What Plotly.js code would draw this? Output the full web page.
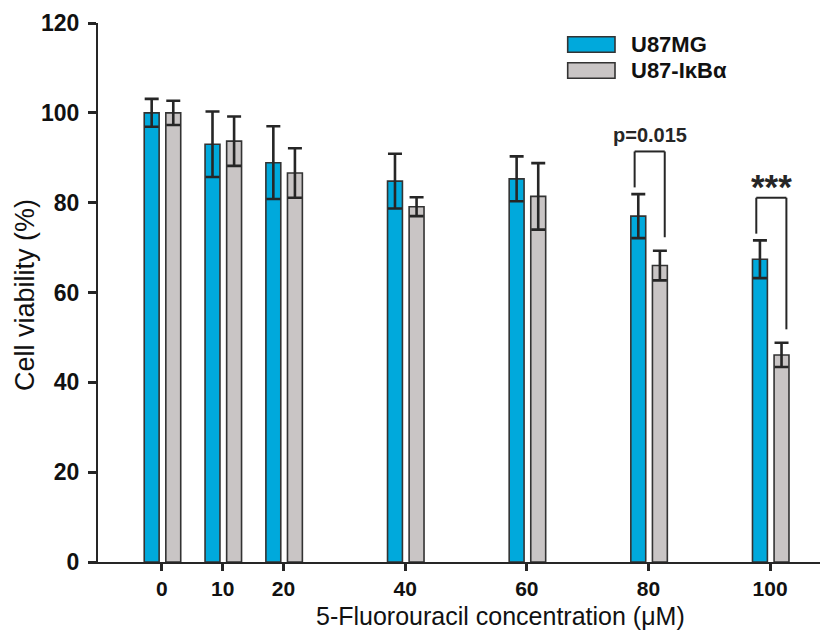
<!DOCTYPE html>
<html>
<head>
<meta charset="utf-8">
<script src="https://cdn.plot.ly/plotly-3.0.1.min.js"></script>
<style>
html,body{margin:0;padding:0;background:#fff;}
#chart{width:822px;height:630px;}
</style>
</head>
<body>
<div id="chart"></div>
<script>
// ---- data ----
var concentrations = [0, 10, 20, 40, 60, 80, 100];
var tickLabels = ['0', '10', '20', '40', '60', '80', '100'];
var seriesNames = ['U87MG', 'U87-I\u03BAB\u03B1'];
var u87mgMean = [100.0, 93.0, 88.9, 84.8, 85.3, 77.0, 67.4];
var u87mgSD   = [3.1, 7.3, 8.1, 6.1, 5.0, 4.9, 4.2];
var ikbaMean  = [100.0, 93.7, 86.6, 79.1, 81.4, 66.0, 46.1];
var ikbaSD    = [2.7, 5.5, 5.5, 2.1, 7.4, 3.3, 2.7];
var sigIndex  = [5, 6];
var sigLabels = ['p=0.015', '***'];

// ---- style ----
var blue = '#00a9dc';
var gray = '#c9c5c5';
var ink = '#262626';
var barW = 2.45;
var blueOff = -2.9;
var grayOff = 0.65;
var FONT = 'Liberation Sans, Arial, sans-serif';

function errCfg(arr) {
  return {type: 'data', array: arr, visible: true, color: ink, thickness: 2.6, width: 7};
}

var traces = [
  {
    type: 'bar', name: seriesNames[0], x: concentrations, y: u87mgMean,
    width: barW, offset: blueOff,
    marker: {color: blue, line: {color: '#333333', width: 1.6}},
    error_y: errCfg(u87mgSD), showlegend: false
  },
  {
    type: 'bar', name: seriesNames[1], x: concentrations, y: ikbaMean,
    width: barW, offset: grayOff,
    marker: {color: gray, line: {color: '#333333', width: 1.6}},
    error_y: errCfg(ikbaSD), showlegend: false
  }
];

var shapes = [];
var annotations = [];

// significance brackets computed from the data
sigIndex.forEach(function (i, k) {
  var c = concentrations[i];
  var bTop = u87mgMean[i] + u87mgSD[i];
  var gTop = ikbaMean[i] + ikbaSD[i];
  var xl = c + blueOff + barW / 2 - 0.6;
  var xr = c + grayOff + barW / 2 + 0.8;
  var top = bTop + 9.5;
  shapes.push({type: 'line', xref: 'x', yref: 'y', x0: xl, x1: xl, y0: bTop + 1.5, y1: top, line: {color: ink, width: 2}});
  shapes.push({type: 'line', xref: 'x', yref: 'y', x0: xl, x1: xr, y0: top, y1: top, line: {color: ink, width: 2}});
  shapes.push({type: 'line', xref: 'x', yref: 'y', x0: xr, x1: xr, y0: gTop + 3, y1: top, line: {color: ink, width: 2}});
  annotations.push({
    xref: 'x', yref: 'y', x: (xl + xr) / 2, y: top, text: '<b>' + sigLabels[k] + '</b>',
    showarrow: false, yanchor: 'bottom', yshift: k === 0 ? 3 : -10,
    font: {family: FONT, size: k === 0 ? 20 : 35, color: ink}
  });
});

// legend drawn as boxes + text (paper coords)
var legendItems = [{color: blue, label: seriesNames[0]}, {color: gray, label: seriesNames[1]}];
legendItems.forEach(function (it, k) {
  var yTop = 1 - (36.7 - 23 + k * 26) / 539;
  var yBot = yTop - 15.6 / 539;
  shapes.push({type: 'rect', xref: 'paper', yref: 'paper',
    x0: (567.7 - 98) / 722, x1: (615 - 98) / 722, y0: yBot, y1: yTop,
    fillcolor: it.color, line: {color: '#333333', width: 1.6}});
  annotations.push({xref: 'paper', yref: 'paper', x: (629 - 98) / 722, y: (yTop + yBot) / 2,
    xanchor: 'left', yanchor: 'middle', showarrow: false,
    text: '<b>' + it.label + '</b>', font: {family: FONT, size: 22, color: '#111'}});
});

// axis titles
annotations.push({xref: 'paper', yref: 'paper', x: (500.5 - 98) / 722, y: 0, yanchor: 'middle',
  yshift: -54, showarrow: false, text: '5-Fluorouracil concentration (\u03BCM)',
  font: {family: FONT, size: 25, color: '#111'}});
annotations.push({xref: 'paper', yref: 'paper', x: 0, y: (562 - 295) / 539, xanchor: 'center',
  xshift: -73, textangle: -90, showarrow: false, text: 'Cell viability (%)',
  font: {family: FONT, size: 27, color: '#111'}});

var layout = {
  width: 822, height: 630,
  margin: {l: 98, r: 2, t: 23, b: 68, pad: 0},
  paper_bgcolor: '#ffffff', plot_bgcolor: '#ffffff',
  showlegend: false,
  barmode: 'overlay',
  xaxis: {
    range: [-10.5, 108.2], tickvals: concentrations, ticktext: tickLabels,
    showgrid: false, zeroline: false, showline: true, linecolor: ink, linewidth: 2,
    ticks: 'outside', ticklen: 7, tickwidth: 3, tickcolor: ink,
    tickfont: {family: FONT, size: 21, color: '#111', weight: 'bold'}
  },
  yaxis: {
    range: [0, 120], tickvals: [0, 20, 40, 60, 80, 100, 120],
    showgrid: false, zeroline: false, showline: true, linecolor: ink, linewidth: 2,
    ticks: 'outside', ticklen: 8, tickwidth: 3, tickcolor: ink, ticklabelstandoff: 4,
    tickfont: {family: FONT, size: 23, color: '#111', weight: 'bold'}
  },
  shapes: shapes,
  annotations: annotations
};

Plotly.newPlot('chart', traces, layout, {displayModeBar: false, staticPlot: true});
</script>
</body>
</html>
